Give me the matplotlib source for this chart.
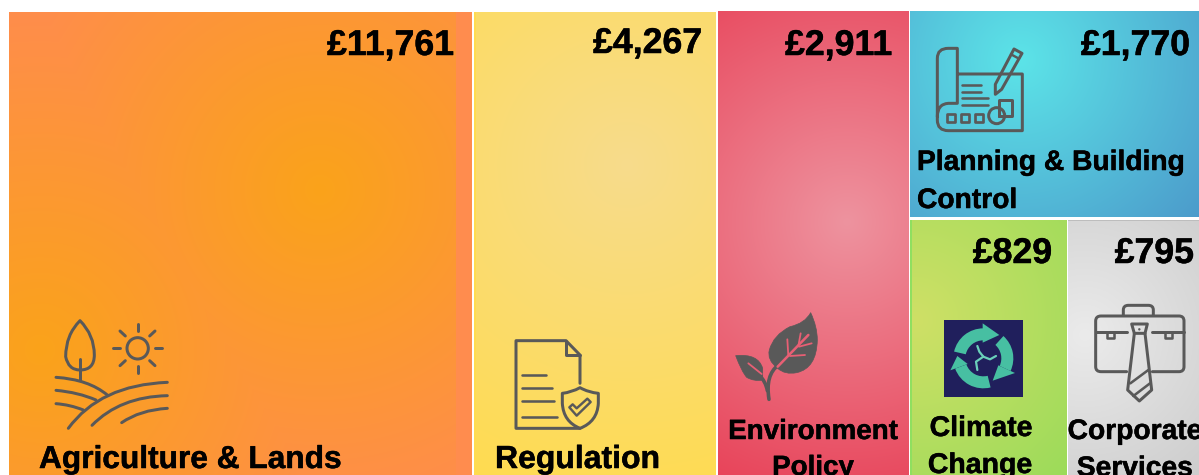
import numpy as np
import matplotlib
matplotlib.use("Agg")
import matplotlib.pyplot as plt
import matplotlib.patheffects as pe
from matplotlib.path import Path
from matplotlib.patches import PathPatch, Circle, Rectangle, Polygon, Wedge

# ---- data ----
categories = ["Agriculture & Lands", "Regulation", "Environment Policy",
              "Planning & Building Control", "Climate Change", "Corporate Services"]
values = [11761, 4267, 2911, 1770, 829, 795]

# ---- layout / style ----
W, H = 1199, 475
boxes = [(9, 12, 472, 475), (474, 12, 716, 475), (718, 11, 909, 475),
         (910, 11, 1199, 217), (910, 220, 1067, 475), (1068, 220, 1199, 475)]
centres = [(320, 190), (627, 165), (847, 222), (1020, 60), (915, 320), (1085, 335)]
inner = ["#FAA31A", "#F7DC8C", "#EE939F", "#5CE4E8", "#CFE066", "#EBEBEB"]
outer = ["#FF8C4E", "#FFDB50", "#E8445A", "#4C9BCB", "#9CDB5A", "#CDCDCD"]
value_pos = [(454, 55), (702, 53), (892, 55), (1190, 55), (1052, 263), (1194, 263)]
label_lines = [["Agriculture & Lands"], ["Regulation"], ["Environment", "Policy"],
               ["Planning & Building", "Control"], ["Climate", "Change"], ["Corporate", "Services"]]
label_pos = [[(39, 468, "left")], [(495, 468, "left")],
             [(813, 439, "center"), (813, 475, "center")],
             [(917, 170, "left"), (917, 208, "left")],
             [(981, 436, "center"), (980, 473, "center")],
             [(1135, 439, "center"), (1135, 476, "center")]]
label_size = [22.8, 23, 20, 20.3, 20.5, 20.3]
FONT = "Liberation Sans"
GREY = "#595959"
LW = 3.0 * 0.72
BOLD = [pe.withStroke(linewidth=0.35, foreground="black")]

plt.rcParams["font.family"] = [FONT, "DejaVu Sans"]
fig = plt.figure(figsize=(W / 100, H / 100), dpi=100, facecolor="white")
ax = fig.add_axes([0, 0, 1, 1])
ax.axis("off")


def hex2rgb(h):
    return np.array(matplotlib.colors.to_rgb(h))


for i, ((x0, y0, x1, y1), (cx, cy), c0, c1) in enumerate(zip(boxes, centres, inner, outer)):
    xs, ys = np.meshgrid(np.arange(x0, x1) + .5, np.arange(y0, y1) + .5)
    r = np.hypot(xs - cx, ys - cy)
    corners = [np.hypot(a - cx, b - cy) for a in (x0, x1) for b in (y0, y1)]
    t = np.clip(r / max(corners), 0, 1)
    if i == 0:
        # the large tile has a second warm spot low on the left and a flat strip on the right
        t = np.minimum(np.clip(r / 345, 0, 1), np.clip(np.hypot(xs - 40, ys - 350) / 355, 0, 1))
        t[xs > 456] = 1
    t = t[..., None]
    img = hex2rgb(c0) * (1 - t) + hex2rgb(c1) * t
    ax.imshow(img, extent=(x0, x1, y1, y0), aspect="auto", interpolation="nearest", zorder=1)

# thin accents along tile edges
ax.add_patch(Rectangle((910, 220), 2, 255, fc="#8FDF60", ec="none", zorder=2))
ax.add_patch(Rectangle((1068, 220), 131, 1.2, fc="#BDBDBD", ec="none", zorder=2))
ax.add_patch(Rectangle((474, 12), 1.5, 463, fc="#FFDB50", ec="none", zorder=2))


def stroke(ox, oy, *segs, lw=LW, color=GREY, closed=False, fill=None):
    """Segments in 3x-zoom coordinates: tuple=point, list of 2=quadratic curve to second."""
    verts, codes = [], []
    conv = lambda p: (ox + p[0] / 3, oy + p[1] / 3)
    for i, s in enumerate(segs):
        if i == 0:
            verts.append(conv(s)); codes.append(Path.MOVETO)
        elif isinstance(s, list):
            verts += [conv(s[0]), conv(s[1])]; codes += [Path.CURVE3, Path.CURVE3]
        else:
            verts.append(conv(s)); codes.append(Path.LINETO)
    if closed:
        verts.append(verts[0]); codes.append(Path.CLOSEPOLY)
    ax.add_patch(PathPatch(Path(verts, codes), fc=fill if fill else "none", ec=color, lw=lw,
                           capstyle="round", joinstyle="round", zorder=3))


# farm icon
ox, oy = 0, 300
stroke(ox, oy, (240, 62), [(197, 105), (197, 170)], [(205, 210), (240, 210)], [(283, 210), (283, 165)], [(283, 105), (240, 62)], closed=True)
stroke(ox, oy, (240, 178), (240, 240))
ax.add_patch(Circle((413 / 3, oy + 145 / 3), 32 / 3, fc="none", ec=GREY, lw=LW, zorder=3))
for a, b in [((413, 72), (413, 93)), ((413, 198), (413, 218)), ((340, 145), (360, 145)), ((466, 145), (486, 145)),
             ((360, 93), (376, 108)), ((465, 93), (449, 108)), ((360, 197), (376, 182)), ((465, 197), (449, 182))]:
    stroke(ox, oy, a, b)
stroke(ox, oy, (168, 232), [(265, 238), (322, 285)])
stroke(ox, oy, (168, 271), [(235, 277), (288, 300)])
stroke(ox, oy, (168, 311), [(210, 314), (250, 330)])
stroke(ox, oy, (205, 385), [(300, 255), (502, 247)])
stroke(ox, oy, (276, 376), [(360, 290), (502, 287)])
stroke(ox, oy, (365, 368), [(420, 330), (502, 325)])

# document icon
ox, oy = 480, 300
stroke(ox, oy, (300, 250), (300, 165), (258, 122), (108, 122), (108, 385), (300, 385))
stroke(ox, oy, (258, 122), (258, 165), (300, 165))
for a, b in [((125, 224), (197, 224)), ((125, 263), (215, 263)), ((125, 303), (222, 303)), ((125, 352), (232, 352))]:
    stroke(ox, oy, a, b, lw=LW * .85)
stroke(ox, oy, (300, 263), [(275, 277), (247, 280)], (247, 310), [(250, 365), (300, 385)], [(352, 365), (355, 310)], (355, 280), [(325, 277), (300, 263)], closed=True)
stroke(ox, oy, (268, 322), (278, 313), (290, 325), (322, 296), (332, 306), (290, 347), closed=True, lw=LW * .8)

# leaf icon
leafc = "#E85F74"
stroke(ox, oy, (992, 38), [(1012, 80), (1012, 120)], [(1010, 205), (950, 218)], [(915, 225), (893, 205)], [(860, 180), (868, 150)], [(880, 105), (930, 80)], [(975, 70), (992, 38)], closed=True, fill=GREY, lw=.5)
stroke(ox, oy, (767, 167), [(835, 160), (848, 205)], (848, 240), [(822, 245), (800, 232)], [(785, 215), (767, 167)], closed=True, fill=GREY, lw=.5)
stroke(ox, oy, (867, 298), [(855, 225), (895, 195)], lw=LW * 1.2)
stroke(ox, oy, (862, 272), [(858, 245), (835, 222)], lw=LW * 1.2)
stroke(ox, oy, (893, 200), (985, 105), color=leafc, lw=LW * .85)
stroke(ox, oy, (925, 168), (922, 118), color=leafc, lw=LW * .6)
stroke(ox, oy, (955, 138), (962, 100), color=leafc, lw=LW * .6)
stroke(ox, oy, (930, 168), (975, 165), color=leafc, lw=LW * .6)
stroke(ox, oy, (957, 140), (995, 130), color=leafc, lw=LW * .6)
stroke(ox, oy, (805, 190), (845, 222), color=leafc, lw=LW * .6)

# planning icon
ox, oy = 900, 0
stroke(ox, oy, (175, 222), (367, 222), (367, 392), (145, 392), [(112, 392), (112, 360)], (112, 175), [(112, 145), (145, 145)], (172, 145), (172, 310), (145, 310), [(112, 312), (112, 350)])
for a, b in [((187, 255), (243, 255)), ((187, 275), (243, 275)), ((187, 295), (263, 295)), ((187, 315), (263, 315))]:
    stroke(ox, oy, a, b, lw=LW * .85)
stroke(ox, oy, (342, 147), (366, 160), (305, 268), (286, 283), (286, 253), closed=True)
stroke(ox, oy, (333, 163), (357, 176), lw=LW * .8)
for sx in (140, 182, 224):
    stroke(ox, oy, (sx, 343), (sx + 24, 343), (sx + 24, 366), (sx, 366), closed=True, lw=LW * .9)
ax.add_patch(Circle((ox + 290 / 3, 347 / 3), 24 / 3, fc="none", ec=GREY, lw=LW, zorder=3))
stroke(ox, oy, (297, 347), (297, 300), (336, 300), (336, 347), (297, 347))

# climate icon
ox, oy = 900, 220
teal = "#47BFA2"
navy = "#201F5C"
ax.add_patch(Rectangle((ox + 132 / 3, oy + 300 / 3), 236 / 3, 230 / 3, fc=navy, ec="none", zorder=3))
cc = (ox + 250 / 3, oy + 415 / 3)
for start, end in [(193, 270), (312, 385), (76, 160)]:
    ax.add_patch(Wedge(cc, 30, start, end, width=12, fc=teal, ec="none", zorder=4))
for pts in [[(248, 310), (298, 345), (248, 368)], [(345, 459), (278, 482), (295, 436)], [(151, 451), (172, 408), (203, 432)]]:
    ax.add_patch(Polygon([(ox + a / 3, oy + b / 3) for a, b in pts], fc=teal, ec="none", zorder=4))
stroke(ox, oy, (250, 410), (238, 395), (232, 378), lw=1.6, color="#6AD0BA")
stroke(ox, oy, (250, 410), (270, 418), (288, 408), lw=1.6, color="#6AD0BA")
stroke(ox, oy, (250, 410), (228, 425), (232, 450), lw=1.6, color="#6AD0BA")

# briefcase icon
stroke(ox, oy, (680, 455), (603, 455), [(587, 455), (587, 440)], (587, 303), [(587, 288), (603, 288)], (837, 288), [(852, 288), (852, 303)], (852, 440), [(852, 455), (837, 455)], (757, 455))
stroke(ox, oy, (670, 285), (670, 270), [(670, 256), (685, 256)], (745, 256), [(760, 256), (760, 270)], (760, 285))
stroke(ox, oy, (587, 335), (680, 335))
stroke(ox, oy, (757, 335), (852, 335))
stroke(ox, oy, (621, 337), (621, 354), (642, 354), (642, 337), lw=LW * .85)
stroke(ox, oy, (796, 337), (796, 354), (817, 354), (817, 337), lw=LW * .85)
stroke(ox, oy, (695, 312), (742, 312), (735, 340), (703, 340), closed=True)
stroke(ox, oy, (703, 340), (683, 510), (718, 543), (755, 510), (735, 340))
stroke(ox, oy, (691, 490), (745, 450), lw=LW * .85)
stroke(ox, oy, (700, 528), (750, 490), lw=LW * .85)
ax.add_patch(Circle((ox + 718 / 3, oy + 328 / 3), 1.2, fc=GREY, ec="none", zorder=4))

# text
for v, (x, y) in zip(values, value_pos):
    ax.text(x, y, f"£{v:,}", ha="right", va="baseline", fontsize=25.7, fontweight="bold", color="black",
            zorder=5, path_effects=BOLD)
for lines, poss, size in zip(label_lines, label_pos, label_size):
    for s, (x, y, ha) in zip(lines, poss):
        ax.text(x, y, s, ha=ha, va="baseline", fontsize=size, fontweight="bold", color="black",
                zorder=5, path_effects=BOLD)

ax.set_xlim(0, W)
ax.set_ylim(H, 0)
fig.savefig("out.png", dpi=100, facecolor="white")
